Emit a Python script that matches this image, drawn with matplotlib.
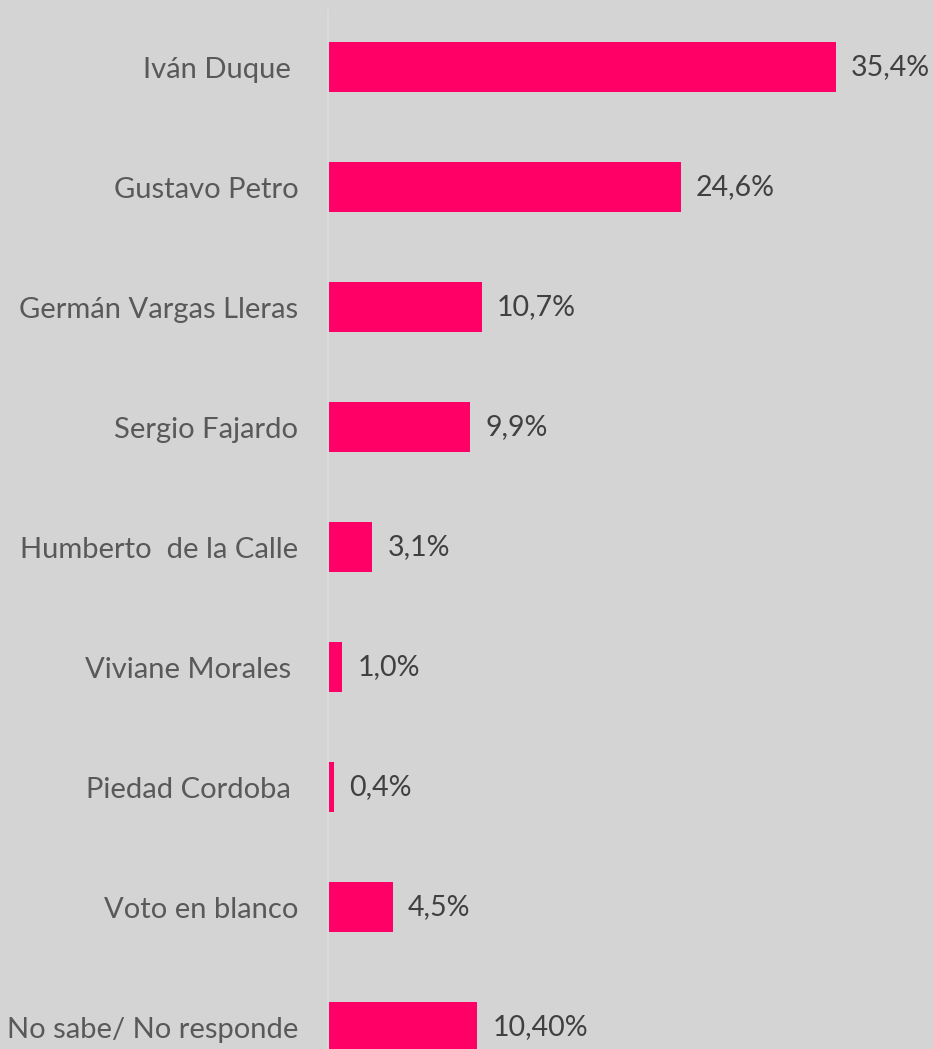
import matplotlib
matplotlib.use("Agg")
import matplotlib.pyplot as plt

candidates = [
    "Iván Duque ",
    "Gustavo Petro",
    "Germán Vargas Lleras",
    "Sergio Fajardo",
    "Humberto  de la Calle",
    "Viviane Morales ",
    "Piedad Cordoba ",
    "Voto en blanco",
    "No sabe/ No responde",
]
values = [35.4, 24.6, 10.7, 9.9, 3.1, 1.0, 0.4, 4.5, 10.4]
value_labels = ["35,4%", "24,6%", "10,7%", "9,9%", "3,1%", "1,0%", "0,4%", "4,5%", "10,40%"]

BG = "#d4d4d4"
BAR = "#ff0066"

plt.rcParams["font.family"] = ["Lato", "DejaVu Sans"]

W, H = 933, 1049
fig = plt.figure(figsize=(W / 100, H / 100), dpi=100, facecolor=BG)
ax = fig.add_axes([328 / W, 0, 1 - 328 / W, 1039 / H])
ax.set_facecolor(BG)

pos = list(range(len(candidates)))
ax.barh(pos, values, height=0.41, color=BAR, left=0)

for y, v, lab in zip(pos, values, value_labels):
    ax.annotate(lab, xy=(v, y), xytext=(15, 0), textcoords="offset pixels",
                va="center", ha="left", fontsize=20.5, color="#404040")

ax.set_yticks(pos)
ax.set_yticklabels(candidates, fontsize=21, color="#595959")
ax.tick_params(axis="y", length=0, pad=21.5)
ax.set_xticks([])
ax.set_xlim(0, 42.16)
ax.set_ylim(8.183, -0.475)

for s in ["top", "right", "bottom"]:
    ax.spines[s].set_visible(False)
ax.spines["left"].set_color("#dadada")
ax.spines["left"].set_linewidth(1.5)

fig.savefig("out.png", dpi=100, facecolor=BG)
